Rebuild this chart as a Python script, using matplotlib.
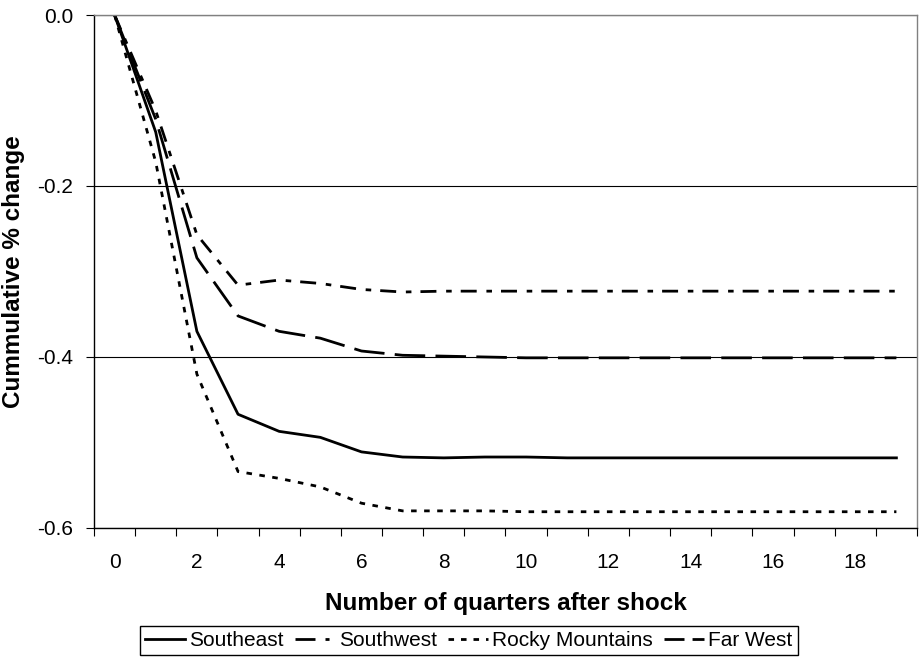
import numpy as np
import matplotlib
matplotlib.use("Agg")
import matplotlib.pyplot as plt
from matplotlib.lines import Line2D

plt.rcParams['font.family'] = ['Liberation Sans', 'DejaVu Sans']
plt.rcParams['axes.unicode_minus'] = False
plt.rcParams['lines.scale_dashes'] = False

quarters = list(range(20))
southeast = [0.0, -0.137, -0.370, -0.467, -0.487, -0.494, -0.511, -0.517, -0.518, -0.517,
             -0.517, -0.518, -0.518, -0.518, -0.518, -0.518, -0.518, -0.518, -0.518, -0.518]
southwest = [0.0, -0.112, -0.257, -0.316, -0.310, -0.314, -0.321, -0.324, -0.323, -0.323,
             -0.323, -0.323, -0.323, -0.323, -0.323, -0.323, -0.323, -0.323, -0.323, -0.323]
rocky = [0.0, -0.172, -0.420, -0.534, -0.542, -0.552, -0.571, -0.580, -0.580, -0.580,
         -0.581, -0.581, -0.581, -0.581, -0.581, -0.581, -0.581, -0.581, -0.581, -0.581]
far_west = [0.0, -0.122, -0.284, -0.352, -0.370, -0.378, -0.393, -0.398, -0.399, -0.400,
            -0.401, -0.401, -0.401, -0.401, -0.401, -0.401, -0.401, -0.401, -0.401, -0.401]
series_names = ['Southeast', 'Southwest', 'Rocky Mountains', 'Far West']
xtick_labels = [str(q) for q in range(0, 20, 2)]

fig = plt.figure(figsize=(9.19, 6.58), dpi=100)
ax = fig.add_axes([0.1023, 0.1976, 0.8955, 0.7796])

lw = 2.0
ax.plot(quarters, southeast, color='black', lw=lw)
ax.plot(quarters, southwest, color='black', lw=lw, dashes=(11.5, 7, 4, 6.5))
ax.plot(quarters, rocky, color='black', lw=lw, dashes=(4, 5.4))
ax.plot(quarters, far_west, color='black', lw=lw, dashes=(22, 7.4))

ax.set_xlim(-0.5, 19.5)
ax.set_ylim(-0.6, 0.0)
ax.set_yticks([0.0, -0.2, -0.4, -0.6])
ax.set_yticklabels(['0.0', '-0.2', '-0.4', '-0.6'])
ax.set_xticks(range(0, 20, 2))
ax.set_xticklabels(xtick_labels)
ax.set_xticks(np.arange(-0.5, 20, 1), minor=True)
ax.tick_params(axis='x', which='major', length=0, pad=18, labelsize=15)
ax.tick_params(axis='x', which='minor', length=5.8, width=0.8, direction='out')
ax.tick_params(axis='y', length=5.8, width=0.8, direction='out', labelsize=15, pad=9)

ax.grid(axis='y', color='black', lw=0.8)
ax.set_axisbelow(True)
for s in ['top', 'right']:
    ax.spines[s].set_color('#808080')
    ax.spines[s].set_linewidth(1.0)
for s in ['left', 'bottom']:
    ax.spines[s].set_color('black')
    ax.spines[s].set_linewidth(1.0)

ax.set_xlabel('Number of quarters after shock', fontsize=17.5, fontweight='bold')
ax.set_ylabel('Cummulative % change', fontsize=17.5, fontweight='bold')
ax.xaxis.set_label_coords(0.5, -0.124)
ax.yaxis.set_label_coords(-0.084, 0.5)

# legend samples are drawn shorter than the plotted dashes
handles = [
    Line2D([], [], color='black', lw=lw),
    Line2D([], [], color='black', lw=lw, dashes=(14.4, 7.2, 2.9, 4.3)),
    Line2D([], [], color='black', lw=lw, dashes=(4, 5)),
    Line2D([], [], color='black', lw=lw, dashes=(14.4, 5.8)),
]
fig.legend(handles, series_names, loc='lower center', bbox_to_anchor=(0.51, 0.004), ncol=4,
           fontsize=15, frameon=True, fancybox=False, edgecolor='black', framealpha=1,
           handlelength=1.92, handletextpad=0.2, columnspacing=0.53, borderpad=0.25,
           borderaxespad=0.0)

fig.savefig('out.png', dpi=100)
